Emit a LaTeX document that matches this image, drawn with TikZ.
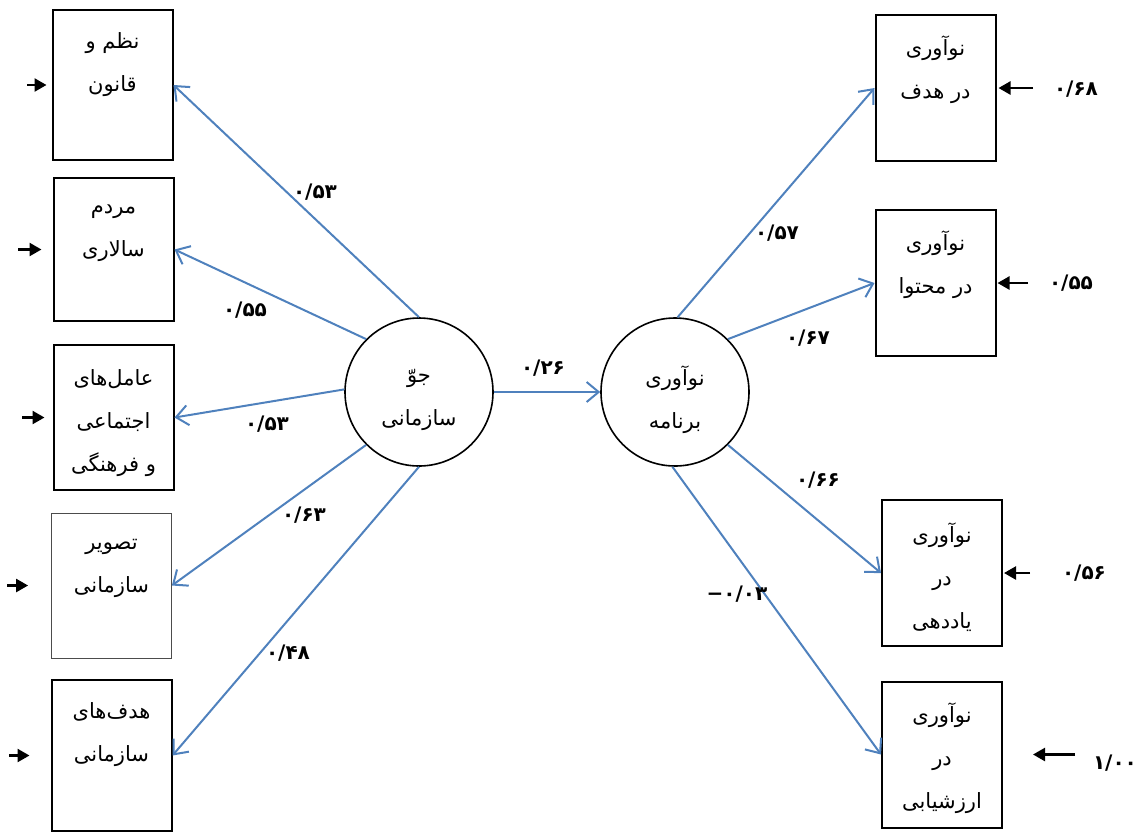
\documentclass[tikz,border=0pt]{standalone}
\usepackage{fontspec}
\newfontfamily\arabicfont[Script=Arabic]{DejaVu Sans}
\TeXXeTstate=1
\usetikzlibrary{arrows.meta}
\definecolor{pathblue}{RGB}{79,129,189}
\newcommand{\fa}[1]{\beginR #1\endR}

\begin{document}
\begin{tikzpicture}[x=0.5pt,y=-0.5pt,
        font=\arabicfont\fontsize{10.5}{21.5}\selectfont,
        box/.style={draw,line width=1pt,minimum width=60pt,minimum height=73pt,inner sep=0pt},
        latent/.style={draw,circle,line width=0.8pt,minimum size=74pt,inner sep=0pt},
        txt/.style={align=center,inner sep=0pt},
        coef/.style={inner sep=0pt,font=\arabicfont\bfseries\fontsize{10}{12}\selectfont},
        load/.style={pathblue,line width=1pt,-{Straight Barb[length=6pt,width=10pt]}},
        err/.style={line width=1.2pt,-{Triangle[length=6pt,width=6.5pt]}}]

        \useasboundingbox (0,0) rectangle (1141,832);

        \node[box,minimum height=75pt] (order) at (112.5,85) {};
        \node[box,minimum height=71.5pt] (democracy) at (113.5,249.5) {};
        \node[box,minimum height=72.5pt] (social) at (113.5,417.5) {};
        \node[box,line width=0.4pt,draw=black!70,minimum height=72.5pt] (image) at (111.5,585.5) {};
        \node[box,minimum height=75.5pt] (goals) at (111.5,755.5) {};

        \node[txt] at ([yshift=-28pt]order.north) {\fa{نظم و}\\\fa{قانون}};
        \node[txt] at ([yshift=-28pt]democracy.north) {\fa{مردم}\\\fa{سالاری}};
        \node[txt] at ([yshift=-39.5pt]social.north) {\fa{عامل‌های}\\\fa{اجتماعی}\\\fa{و فرهنگی}};
        \node[txt] at ([yshift=-28pt]image.north) {\fa{تصویر}\\\fa{سازمانی}};
        \node[txt] at ([yshift=-28pt]goals.north) {\fa{هدف‌های}\\\fa{سازمانی}};

        \node[latent] (climate) at (419,392) {};
        \node[latent] (innov) at (675,392) {};
        \node[txt] at ([yshift=-4pt]climate.center) {\fa{جوّ}\\\fa{سازمانی}};
        \node[txt] at ([yshift=-4pt]innov.center) {\fa{نوآوری}\\\fa{برنامه}};

        \node[box] (ingoal) at (935.5,88) {};
        \node[box] (incontent) at (935.5,283) {};
        \node[box] (inteach) at (942,573) {};
        \node[box] (ineval) at (942,754.5) {};

        \node[txt] at ([yshift=-28pt]ingoal.north) {\fa{نوآوری}\\\fa{در هدف}};
        \node[txt] at ([yshift=-28pt]incontent.north) {\fa{نوآوری}\\\fa{در محتوا}};
        \node[txt] at ([yshift=-39pt]inteach.north) {\fa{نوآوری}\\\fa{در}\\\fa{یاددهی}};
        \node[txt] at ([yshift=-39pt]ineval.north) {\fa{نوآوری}\\\fa{در}\\\fa{ارزشیابی}};

        \path [load] (climate.90) edge (order.east);
        \path [load] (climate.135) edge (democracy.east);
        \path [load] (climate.178) edge (social.east);
        \path [load] (climate.225) edge (image.east);
        \path [load] (climate.270) edge (goals.east);
        \path [load] (climate.east) edge (innov.west);
        \path [load] (innov.88) edge (ingoal.west);
        \path [load] (innov.45) edge (incontent.west);
        \path [load] (innov.-45) edge (inteach.west);
        \path [load] (innov.268) edge (ineval.west);

        \node[coef] at (315,192) {۰/۵۳};
        \node[coef] at (245,310) {۰/۵۵};
        \node[coef] at (267,424) {۰/۵۳};
        \node[coef] at (304,515) {۰/۶۳};
        \node[coef] at (288,653) {۰/۴۸};
        \node[coef] at (543,368) {۰/۲۶};
        \node[coef] at (777,233) {۰/۵۷};
        \node[coef] at (808,338) {۰/۶۷};
        \node[coef] at (818,480) {۰/۶۶};
        \node[coef] at (737,594) {\mbox{−}\mbox{۰/۰۳}};

        \coordinate (u1) at (27,85);
        \coordinate (u2) at (18,249.5);
        \coordinate (u3) at (22,417.5);
        \coordinate (u4) at (7,585.5);
        \coordinate (u5) at (9,755.5);
        \coordinate (v1) at (1033,88);
        \coordinate (v2) at (1028,283);
        \coordinate (v3) at (1030,573);
        \coordinate (v4) at (1075,754.5);

        \path [err] (u1) edge[shorten >=2.5pt] (order);
        \path [err] (u2) edge[shorten >=5.5pt] (democracy);
        \path [err] (u3) edge[shorten >=4pt] (social);
        \path [err] (u4) edge[shorten >=11.5pt] (image);
        \path [err] (u5) edge[shorten >=10.5pt] (goals);
        \path [err] (v1) edge[shorten >=1pt] (ingoal);
        \path [err] (v2) edge[shorten >=0.5pt] (incontent);
        \path [err] (v3) edge[shorten >=0.5pt] (inteach);
        \path [err] (v4) edge[shorten >=15pt] (ineval);

        \node[coef] at (1076,89) {۰/۶۸};
        \node[coef] at (1071,283) {۰/۵۵};
        \node[coef] at (1084,573) {۰/۵۶};
        \node[coef] at (1115,763) {۱/۰۰};
\end{tikzpicture}
\end{document}
